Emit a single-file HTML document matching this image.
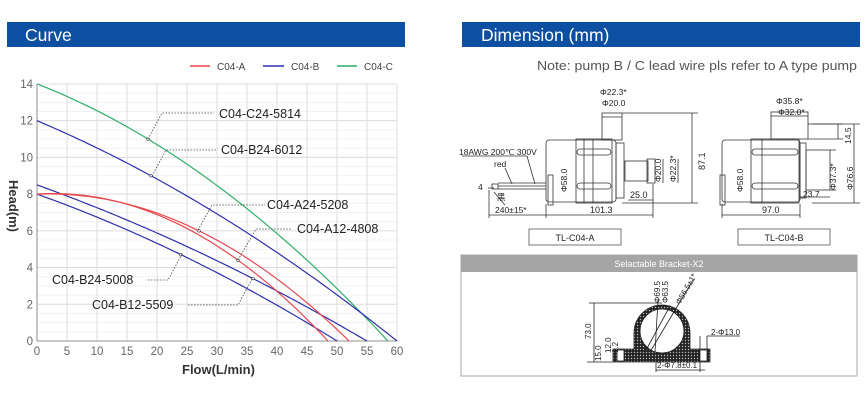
<!DOCTYPE html>
<html><head><meta charset="utf-8"><style>
html,body{margin:0;padding:0;background:#fff;}
svg{display:block;font-family:"Liberation Sans",Arial,sans-serif;}
</style></head><body>
<svg id="s" width="868" height="401" viewBox="0 0 868 401" xmlns="http://www.w3.org/2000/svg">
<defs><pattern id="dots" width="3" height="3" patternUnits="userSpaceOnUse"><rect width="3" height="3" fill="#222"/><circle cx="1.5" cy="1.5" r="0.7" fill="#bbb"/></pattern></defs>
<rect x="7" y="22" width="398" height="25" fill="#0d4fa0"/>
<text x="25" y="41" font-size="17.5" fill="#fff">Curve</text>
<rect x="462" y="22" width="398" height="25" fill="#0d4fa0"/>
<text x="481" y="41" font-size="17.5" fill="#fff">Dimension (mm)</text>

<g id="grid"></g>
<g stroke="#777" stroke-width="0.8" fill="none">
<line x1="37" y1="84" x2="37" y2="341"/>
<line x1="37" y1="341" x2="397" y2="341"/>
</g>
<g font-size="11.5" fill="#666" id="ticks"></g>
<text x="182" y="374" font-size="13" font-weight="bold" fill="#333">Flow(L/min)</text>
<text transform="translate(9,215) rotate(90)" x="-35" y="0" font-size="13" font-weight="bold" fill="#333" text-anchor="start">Head(m)</text>

<g font-size="10" fill="#444">
<line x1="190" y1="66" x2="210" y2="66" stroke="#e8474f" stroke-width="1.5"/><text x="217" y="70">C04-A</text>
<line x1="263" y1="66" x2="284" y2="66" stroke="#2e2fae" stroke-width="1.5"/><text x="291" y="70">C04-B</text>
<line x1="337" y1="66" x2="357" y2="66" stroke="#2fae6a" stroke-width="1.5"/><text x="364" y="70">C04-C</text>
</g>
<g id="curves" fill="none" stroke-width="1.2"></g>

<g stroke="#444" stroke-width="0.8" stroke-dasharray="1.5,1.5" fill="none">
<polyline points="148,139 162,113 214,113"/>
<polyline points="152,176 166,150 216,150"/>
<polyline points="198,230 212,205 265,205"/>
<polyline points="238,260 256,229 292,229"/>
<polyline points="182,254 168,280 146,280"/>
<polyline points="252,279 238,305 188,305"/>
</g>
<g font-size="12.5" fill="#222">
<text x="219" y="118">C04-C24-5814</text>
<text x="221" y="154">C04-B24-6012</text>
<text x="267" y="209">C04-A24-5208</text>
<text x="297" y="233">C04-A12-4808</text>
<text x="52" y="284">C04-B24-5008</text>
<text x="92" y="309">C04-B12-5509</text>
</g>

<text x="537" y="70" font-size="13" fill="#555" textLength="320" lengthAdjust="spacingAndGlyphs">Note: pump B / C lead wire pls refer to A type pump</text>

<!-- Pump A -->
<g stroke="#333" stroke-width="0.8" fill="none">
<rect x="546" y="140" width="70" height="62" rx="3"/>
<rect x="548" y="175" width="5" height="30"/>
<rect x="576" y="139" width="36" height="64"/>
<line x1="584" y1="139" x2="584" y2="203"/><line x1="593" y1="139" x2="593" y2="203"/>
<rect x="577" y="149" width="34" height="6" rx="3"/><rect x="577" y="183" width="34" height="6" rx="3"/>
<rect x="616" y="143" width="8" height="55"/>
<rect x="602" y="113" width="20" height="27"/><line x1="602" y1="117" x2="622" y2="117"/>
<rect x="625" y="161" width="23" height="20"/><rect x="647" y="159" width="8" height="24"/>
<line x1="498" y1="183" x2="546" y2="183"/><line x1="498" y1="186" x2="546" y2="186"/><line x1="498" y1="189" x2="546" y2="189"/>
<rect x="492" y="184" width="6" height="5"/>
<line x1="622" y1="113" x2="698" y2="113"/><line x1="622" y1="203" x2="698" y2="203"/>
<line x1="692" y1="113" x2="692" y2="203"/>
<line x1="663" y1="159" x2="663" y2="183"/><line x1="678" y1="159" x2="678" y2="183"/>
<line x1="546" y1="204" x2="546" y2="218"/><line x1="653" y1="184" x2="653" y2="218"/>
<line x1="546" y1="215" x2="653" y2="215"/>
<line x1="489" y1="190" x2="489" y2="218"/><line x1="489" y1="215" x2="546" y2="215"/>
<line x1="628" y1="200" x2="653" y2="200"/>
<line x1="462" y1="156" x2="527" y2="156"/><line x1="527" y1="156" x2="535" y2="184"/>
<line x1="505" y1="168" x2="512" y2="184"/>
<line x1="488" y1="188" x2="494" y2="188"/>
<line x1="494" y1="192" x2="505" y2="205"/>
</g>
<g font-size="8.5" fill="#222">
<text x="600" y="95">Φ22.3*</text><text x="602" y="106">Φ20.0</text>
<text transform="translate(567,192) rotate(-90)">Φ58.0</text>
<text transform="translate(661,182) rotate(-90)">Φ20.0</text>
<text transform="translate(676,182) rotate(-90)">Φ22.3*</text>
<text transform="translate(705,170) rotate(-90)" font-size="9">87.1</text>
<text x="630" y="198" font-size="9">25.0</text>
<text x="590" y="213" font-size="9">101.3</text>
<text x="495" y="213">240±15*</text>
<text x="459" y="155">18AWG 200℃ 300V</text>
<text x="494" y="167">red</text><text x="478" y="190">4</text><text x="497" y="200">黑</text>
</g>
<rect x="529" y="229" width="92" height="16" fill="#fff" stroke="#555" stroke-width="0.8"/>
<text x="575" y="241" font-size="9" fill="#222" text-anchor="middle">TL-C04-A</text>

<!-- Pump B -->
<g stroke="#333" stroke-width="0.8" fill="none">
<rect x="722" y="140" width="78" height="62" rx="3"/>
<rect x="720" y="175" width="5" height="30"/>
<rect x="751" y="139" width="48" height="64"/>
<line x1="762" y1="139" x2="762" y2="203"/>
<rect x="752" y="149" width="46" height="6" rx="3"/><rect x="752" y="183" width="46" height="6" rx="3"/>
<rect x="771" y="112" width="37" height="27"/><line x1="771" y1="116" x2="808" y2="116"/>
<rect x="800" y="143" width="6" height="55"/>
<rect x="806" y="150" width="24" height="40"/>
<line x1="808" y1="124" x2="843" y2="124"/><line x1="808" y1="139" x2="843" y2="139"/>
<line x1="838" y1="124" x2="838" y2="139"/>
<line x1="812" y1="124" x2="860" y2="124"/><line x1="812" y1="203" x2="860" y2="203"/>
<line x1="854" y1="124" x2="854" y2="203"/>
<line x1="830" y1="150" x2="836" y2="150"/><line x1="830" y1="190" x2="836" y2="190"/>
<line x1="722" y1="204" x2="722" y2="218"/><line x1="800" y1="204" x2="800" y2="218"/>
<line x1="722" y1="215" x2="800" y2="215"/>
<line x1="800" y1="197" x2="830" y2="197"/>
</g>
<g font-size="8.5" fill="#222">
<text x="776" y="104">Φ35.8*</text><text x="778" y="115">Φ32.0*</text>
<text transform="translate(743,192) rotate(-90)">Φ58.0</text>
<text transform="translate(851,144) rotate(-90)">14.5</text>
<text transform="translate(836,190) rotate(-90)">Φ37.3*</text>
<text transform="translate(853,190) rotate(-90)">Φ76.6</text>
<text x="803" y="197">23.7</text>
<text x="762" y="213" font-size="9">97.0</text>
</g>
<rect x="738" y="229" width="92" height="16" fill="#fff" stroke="#555" stroke-width="0.8"/>
<text x="784" y="241" font-size="9" fill="#222" text-anchor="middle">TL-C04-B</text>

<!-- Bracket -->
<rect x="461" y="255" width="396" height="121" fill="#fff" stroke="#aaa" stroke-width="1"/>
<rect x="461" y="255" width="396" height="17" fill="#a5a5a5"/>
<text x="659" y="267" font-size="9" fill="#fff" text-anchor="middle">Selactable Bracket-X2</text>
<g stroke="#222" stroke-width="0.8">
<path d="M613,349 L634,349 L634,333 A28,28 0 0 1 690,333 L690,349 L710,349 L710,362 L613,362 Z" fill="url(#dots)"/>
<circle cx="662" cy="331" r="22" fill="#fff"/>
<rect x="617" y="350" width="7" height="11" fill="#fff"/>
<rect x="700" y="350" width="7" height="11" fill="#fff"/>
<line x1="589" y1="303" x2="662" y2="303"/><line x1="594" y1="303" x2="594" y2="362"/>
<line x1="587" y1="362" x2="613" y2="362"/>
<line x1="645" y1="352" x2="670" y2="306"/><line x1="650" y1="352" x2="693" y2="280"/>
<line x1="655" y1="352" x2="658" y2="300"/>
<line x1="700" y1="336" x2="700" y2="349"/><line x1="707" y1="336" x2="707" y2="349"/>
<line x1="707" y1="336" x2="740" y2="336"/>
<line x1="656" y1="362" x2="656" y2="372"/><line x1="700" y1="362" x2="700" y2="372"/>
<line x1="656" y1="370" x2="705" y2="370"/>
</g>
<g font-size="8" fill="#222">
<text transform="translate(591,339) rotate(-90)">73.0</text>
<text transform="translate(601,361) rotate(-90)">15.0</text>
<text transform="translate(611,353) rotate(-90)">12.0</text>
<text transform="translate(618,353) rotate(-90)">1.2</text>
<text transform="translate(660,303) rotate(-90)">Φ69.5</text>
<text transform="translate(668,303) rotate(-90)">Φ63.5</text>
<text transform="translate(680,305) rotate(-60)">Φ56.5±1*</text>
<text x="711" y="335">2-Φ13.0</text>
<text x="657" y="368">2-Φ7.8±0.1</text>
</g>
</svg>
<script>
var NS="http://www.w3.org/2000/svg",s=document.getElementById('s');
function X(q){return 37+q*6;} function Y(h){return 341-h*18.36;}
function el(p,t,a){var e=document.createElementNS(NS,t);for(var k in a)e.setAttribute(k,a[k]);p.appendChild(e);return e;}
var g=document.getElementById('grid');
for(var h=0;h<=14;h+=0.5){el(g,'line',{x1:37,x2:397,y1:Y(h),y2:Y(h),stroke:(h%2==0)?'#dcdcdc':'#f1f1f1','stroke-width':1});}
for(var q=0;q<=60;q+=5){el(g,'line',{x1:X(q),x2:X(q),y1:84,y2:341,stroke:'#dcdcdc','stroke-width':1});}
var t=document.getElementById('ticks');
for(var q=0;q<=60;q+=5){var e=el(t,'text',{x:X(q),y:355,'text-anchor':'middle'});e.textContent=q;}
for(var h=0;h<=14;h+=2){var e=el(t,'text',{x:33,y:Y(h)+4,'text-anchor':'end'});e.textContent=h;}
var c=document.getElementById('curves');
var C=[[14,0.1265,0.001929,58.5,'#2fae6a'],[12,0.1384,0.001027,60,'#2e2fae'],[8.5,0.1173,0.000678,55,'#2e2fae'],[8,0.1167,0.000865,50,'#2e2fae'],[8,-0.0121,0.003191,52,'#e8474f'],[8,-0.0209,0.003832,48.5,'#e8474f']];
C.forEach(function(k){var d='';for(var i=0;i<=100;i++){var q=k[3]*i/100,h=Math.max(0,k[0]-k[1]*q-k[2]*q*q);d+=(i?'L':'M')+X(q).toFixed(1)+','+Y(h).toFixed(1);}el(c,'path',{d:d,stroke:k[4]});});
[[18.5,11],[19,9],[27,6],[33.5,4.4],[24,4.7],[36,3.4]].forEach(function(p){el(c,'circle',{cx:X(p[0]),cy:Y(p[1]),r:1.3,fill:'#fff',stroke:'#333','stroke-width':0.6});});
</script>
</body></html>
